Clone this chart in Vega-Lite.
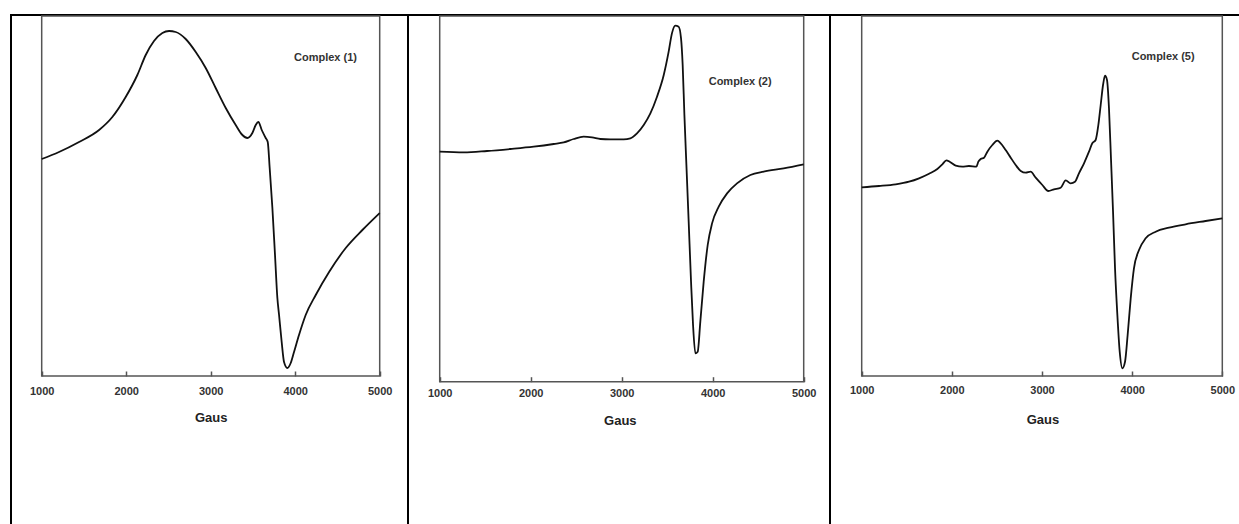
{
  "$schema": "https://vega.github.io/schema/vega-lite/v6.json",
  "padding": {"left": 10, "top": 14, "right": 0, "bottom": 0},
  "background": "#ffffff",
  "spacing": 0,
  "bounds": "flush",
  "config": {
    "view": {"stroke": "#000000", "strokeWidth": 2},
    "font": "Liberation Sans, Arial",
    "axis": {
      "grid": false,
      "domain": false,
      "format": "d",
      "tickSize": 5,
      "tickColor": "#555555",
      "tickWidth": 1.5,
      "labelFont": "Liberation Sans, Arial",
      "labelFontSize": 11,
      "labelFontWeight": "bold",
      "labelColor": "#333333",
      "labelBaseline": "alphabetic",
      "labelFlush": false,
      "labelOverlap": false,
      "titleFont": "Liberation Sans, Arial",
      "titleFontSize": 13,
      "titleFontWeight": "bold",
      "titleColor": "#222222",
      "titleBaseline": "alphabetic"
    }
  },
  "datasets": {
    "c1": [
      {"g":1000,"i":217},{"g":1205,"i":224},{"g":1442,"i":234},{"g":1679,"i":246},{"g":1836,"i":259},{"g":1994,"i":279},{"g":2132,"i":301},{"g":2231,"i":321},{"g":2329,"i":335},{"g":2428,"i":343},{"g":2507,"i":345},{"g":2586,"i":344},{"g":2704,"i":337},{"g":2823,"i":324},{"g":2941,"i":308},{"g":3059,"i":288},{"g":3178,"i":268},{"g":3296,"i":251},{"g":3375,"i":241},{"g":3434,"i":238},{"g":3493,"i":243},{"g":3533,"i":251},{"g":3564,"i":254},{"g":3604,"i":246},{"g":3651,"i":238},{"g":3675,"i":234},{"g":3698,"i":208},{"g":3730,"i":168},{"g":3761,"i":121},{"g":3789,"i":78},{"g":3809,"i":61},{"g":3840,"i":34},{"g":3868,"i":14},{"g":3907,"i":8},{"g":3947,"i":13},{"g":3986,"i":24},{"g":4045,"i":41},{"g":4124,"i":61},{"g":4243,"i":81},{"g":4401,"i":104},{"g":4598,"i":128},{"g":4795,"i":146},{"g":5000,"i":163}
    ],
    "c2": [
      {"g":1000,"i":230},{"g":1264,"i":229.3},{"g":1520,"i":230.7},{"g":1777,"i":232.7},{"g":2033,"i":235},{"g":2253,"i":237.7},{"g":2363,"i":239.3},{"g":2472,"i":242.7},{"g":2582,"i":245},{"g":2674,"i":244.3},{"g":2766,"i":242.7},{"g":2875,"i":242.3},{"g":3022,"i":242.3},{"g":3095,"i":243.3},{"g":3168,"i":248.3},{"g":3242,"i":256.7},{"g":3315,"i":268.3},{"g":3388,"i":285},{"g":3462,"i":306.7},{"g":3516,"i":330},{"g":3552,"i":348.3},{"g":3589,"i":356},{"g":3626,"i":355},{"g":3652,"i":343.3},{"g":3670,"i":316.7},{"g":3689,"i":266.7},{"g":3711,"i":216.7},{"g":3736,"i":160},{"g":3762,"i":100},{"g":3784,"i":56.7},{"g":3810,"i":28.3},{"g":3835,"i":30},{"g":3864,"i":60},{"g":3901,"i":100},{"g":3945,"i":136.7},{"g":3993,"i":158.3},{"g":4066,"i":175},{"g":4158,"i":188.3},{"g":4267,"i":198.3},{"g":4414,"i":206.7},{"g":4560,"i":210},{"g":4780,"i":213.3},{"g":5000,"i":217.3}
    ],
    "c3": [
      {"g":1000,"i":188.7},{"g":1192,"i":190},{"g":1377,"i":191.7},{"g":1525,"i":194.3},{"g":1636,"i":197.7},{"g":1747,"i":202.3},{"g":1839,"i":207},{"g":1895,"i":211.7},{"g":1939,"i":215.7},{"g":1976,"i":214.3},{"g":2043,"i":210.3},{"g":2116,"i":209.3},{"g":2190,"i":210},{"g":2272,"i":209.3},{"g":2294,"i":214.3},{"g":2320,"i":217},{"g":2357,"i":218.3},{"g":2394,"i":224.3},{"g":2449,"i":231},{"g":2505,"i":235.3},{"g":2542,"i":232.7},{"g":2597,"i":226},{"g":2653,"i":218.3},{"g":2708,"i":211},{"g":2764,"i":205},{"g":2819,"i":203.3},{"g":2874,"i":204.3},{"g":2930,"i":198.3},{"g":3004,"i":191},{"g":3070,"i":185},{"g":3133,"i":186.7},{"g":3207,"i":188.3},{"g":3263,"i":195.7},{"g":3318,"i":192.7},{"g":3366,"i":194.3},{"g":3410,"i":202.7},{"g":3466,"i":212.7},{"g":3521,"i":224.3},{"g":3558,"i":232.7},{"g":3595,"i":236},{"g":3625,"i":251},{"g":3651,"i":271},{"g":3677,"i":291},{"g":3699,"i":300.3},{"g":3721,"i":296},{"g":3743,"i":267.7},{"g":3765,"i":217.7},{"g":3788,"i":164.3},{"g":3810,"i":107.7},{"g":3836,"i":61},{"g":3862,"i":24.3},{"g":3891,"i":7.7},{"g":3921,"i":14.3},{"g":3950,"i":41},{"g":3984,"i":77.7},{"g":4020,"i":107.7},{"g":4076,"i":126},{"g":4150,"i":137.7},{"g":4261,"i":144.3},{"g":4409,"i":148.3},{"g":4593,"i":151.7},{"g":4815,"i":155},{"g":5000,"i":157.7}
    ]
  },
  "hconcat": [
    {
      "width": 397,
      "height": 512,
      "resolve": {"axis": {"x": "independent", "y": "independent"}},
      "layer": [
        {
          "data": {"values": [{"x1": 1000, "x2": 5000, "y1": 0, "y2": 360}]},
          "mark": {"type": "rect", "fill": "transparent", "stroke": "#555555", "strokeWidth": 1.5},
          "encoding": {
            "x": {"field": "x1", "type": "quantitative", "axis": null},
            "x2": {"field": "x2"},
            "y": {"field": "y1", "type": "quantitative", "axis": null},
            "y2": {"field": "y2"}
          }
        },
        {
          "data": {"name": "c1"},
          "mark": {"type": "line", "interpolate": "monotone", "color": "#111111", "strokeWidth": 1.8},
          "encoding": {
            "x": {"field": "g", "type": "quantitative",
                  "scale": {"domain": [636.7, 5334.9], "nice": false, "zero": false},
                  "axis": {"values": [1000, 2000, 3000, 4000, 5000], "offset": -156, "labelPadding": 18, "title": "Gaus", "titleX": 199.7, "titleY": 50}},
            "y": {"field": "i", "type": "quantitative",
                  "scale": {"domain": [-151, 361], "nice": false, "zero": false},
                  "axis": null}
          }
        },
        {
          "data": {"values": [{"label": "Complex (1)", "g": 3986, "i": 315}]},
          "mark": {"type": "text", "align": "left", "baseline": "alphabetic", "fontSize": 11, "fontWeight": "bold", "color": "#333333"},
          "encoding": {
            "text": {"field": "label"},
            "x": {"field": "g", "type": "quantitative", "axis": null},
            "y": {"field": "i", "type": "quantitative", "axis": null}
          }
        }
      ]
    },
    {
      "width": 422,
      "height": 512,
      "resolve": {"axis": {"x": "independent", "y": "independent"}},
      "layer": [
        {
          "data": {"values": [{"x1": 1000, "x2": 5000, "y1": 0, "y2": 365.7}]},
          "mark": {"type": "rect", "fill": "transparent", "stroke": "#555555", "strokeWidth": 1.5},
          "encoding": {
            "x": {"field": "x1", "type": "quantitative", "axis": null},
            "x2": {"field": "x2"},
            "y": {"field": "y1", "type": "quantitative", "axis": null},
            "y2": {"field": "y2"}
          }
        },
        {
          "data": {"name": "c2"},
          "mark": {"type": "line", "interpolate": "monotone", "color": "#111111", "strokeWidth": 1.8},
          "encoding": {
            "x": {"field": "g", "type": "quantitative",
                  "scale": {"domain": [651.6, 5289], "nice": false, "zero": false},
                  "axis": {"values": [1000, 2000, 3000, 4000, 5000], "offset": -150.3, "labelPadding": 14.5, "title": "Gaus", "titleX": 211.8, "titleY": 47.3}},
            "y": {"field": "i", "type": "quantitative",
                  "scale": {"domain": [-145.3, 366.7], "nice": false, "zero": false},
                  "axis": null}
          }
        },
        {
          "data": {"values": [{"label": "Complex (2)", "g": 3956, "i": 296.7}]},
          "mark": {"type": "text", "align": "left", "baseline": "alphabetic", "fontSize": 11, "fontWeight": "bold", "color": "#333333"},
          "encoding": {
            "text": {"field": "label"},
            "x": {"field": "g", "type": "quantitative", "axis": null},
            "y": {"field": "i", "type": "quantitative", "axis": null}
          }
        }
      ]
    },
    {
      "width": 412,
      "height": 512,
      "resolve": {"axis": {"x": "independent", "y": "independent"}},
      "layer": [
        {
          "data": {"values": [{"x1": 1000, "x2": 5000, "y1": 0, "y2": 360}]},
          "mark": {"type": "rect", "fill": "transparent", "stroke": "#555555", "strokeWidth": 1.5},
          "encoding": {
            "x": {"field": "x1", "type": "quantitative", "axis": null},
            "x2": {"field": "x2"},
            "y": {"field": "y1", "type": "quantitative", "axis": null},
            "y2": {"field": "y2"}
          }
        },
        {
          "data": {"name": "c3"},
          "mark": {"type": "line", "interpolate": "monotone", "color": "#111111", "strokeWidth": 1.8},
          "encoding": {
            "x": {"field": "g", "type": "quantitative",
                  "scale": {"domain": [648.4, 5218.5], "nice": false, "zero": false},
                  "axis": {"values": [1000, 2000, 3000, 4000, 5000], "offset": -156, "labelPadding": 17, "title": "Gaus", "titleX": 212.5, "titleY": 52}},
            "y": {"field": "i", "type": "quantitative",
                  "scale": {"domain": [-151, 361], "nice": false, "zero": false},
                  "axis": null}
          }
        },
        {
          "data": {"values": [{"label": "Complex (5)", "g": 3995, "i": 316}]},
          "mark": {"type": "text", "align": "left", "baseline": "alphabetic", "fontSize": 11, "fontWeight": "bold", "color": "#333333"},
          "encoding": {
            "text": {"field": "label"},
            "x": {"field": "g", "type": "quantitative", "axis": null},
            "y": {"field": "i", "type": "quantitative", "axis": null}
          }
        }
      ]
    }
  ]
}
